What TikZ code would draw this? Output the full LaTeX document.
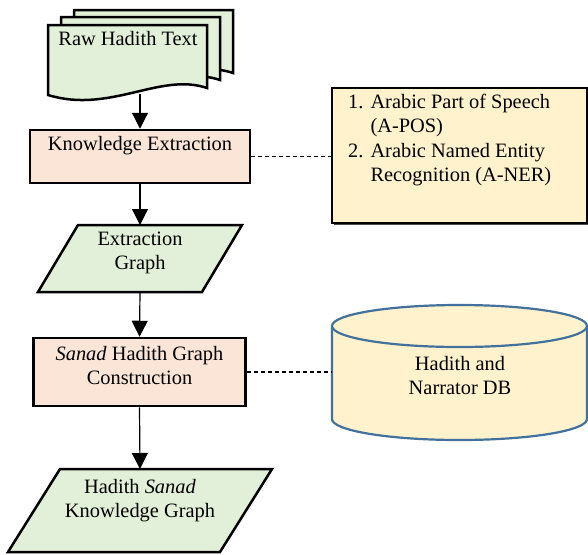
\documentclass[tikz,border=0pt]{standalone}
\usepackage{fontspec}
\setmainfont{Liberation Serif}
\usetikzlibrary{arrows.meta}

\definecolor{docgreen}{HTML}{E2F0D9}
\definecolor{procpink}{HTML}{FBE5D6}
\definecolor{noteyellow}{HTML}{FFF2CC}
\definecolor{dbblue}{HTML}{41719C}

\begin{document}
\begin{tikzpicture}[x=1pt, y=-1pt,
  every node/.style={font=\fontsize{20.4}{24.5}\selectfont},
  txt/.style={inner sep=0pt, anchor=base},
  outline/.style={draw=black, line width=2.5pt},
  procbox/.style={outline, fill=procpink, rectangle, inner sep=0pt},
  notebox/.style={outline, fill=noteyellow, rectangle, inner sep=0pt},
  datashape/.style={outline, fill=docgreen, line join=miter},
  docshape/.style={outline, fill=docgreen},
  flowarrow/.style={draw=black, line width=1.2pt, -{Triangle[length=16pt,width=16pt]}},
  linkline/.style={draw=black, line width=1.1pt, dash pattern=on 4pt off 3pt}]

  \useasboundingbox (0,0) rectangle (588,554);
  \fill[white] (0,0) rectangle (588,554);

  % stacked input documents (back to front)
  \foreach \dx/\dy in {26/-15, 13/-8, 0/0}
    \draw[docshape, shift={(\dx,\dy)}]
      (48,25) -- (207,25) -- (207,88)
      .. controls (160,72) and (110,114) .. (48,95) -- cycle;
  \node[txt] (rawtext) at (128,45) {Raw Hadith Text};
  \coordinate (rawbottom) at (140,94);

  % knowledge extraction step
  \node[procbox, minimum width=220pt, minimum height=53pt] (ke) at (140,156.5) {};
  \node[txt] (ketext) at (140,150) {Knowledge Extraction};

  % extraction methods note
  \fill[black!70] (334,90) rectangle (588,225);
  \node[notebox, minimum width=255pt, minimum height=135pt] (notes) at (459.5,155.5) {};
  \node[inner sep=0pt, anchor=base west] (notetext) at (348,108)
    {\begin{tabular}[t]{@{}l@{\hspace{7pt}}l@{}}
      1. & Arabic Part of Speech\\
         & (A-POS)\\
      2. & Arabic Named Entity\\
         & Recognition (A-NER)
     \end{tabular}};

  % extraction graph
  \draw[datashape] (78,225) -- (242,225) -- (202,292) -- (38,292) -- cycle;
  \coordinate (egtop) at (140,225);
  \coordinate (egbottom) at (140,292);
  \node[txt] (egtext) at (140,245)
    {\begin{tabular}[t]{@{}c@{}}Extraction\\Graph\end{tabular}};

  % sanad graph construction step
  \node[procbox, minimum width=212pt, minimum height=68pt] (sanad) at (139.5,372) {};
  \node[txt] (sanadtext) at (139.5,360)
    {\begin{tabular}[t]{@{}c@{}}\textit{Sanad} Hadith Graph\\Construction\end{tabular}};

  % hadith and narrator database
  \fill[noteyellow] (332,326) -- (332,419)
    arc[start angle=180, end angle=0, x radius=127.5, y radius=21] -- (587,326) -- cycle;
  \draw[dbblue, line width=2.2pt] (332,326) -- (332,419)
    arc[start angle=180, end angle=0, x radius=127.5, y radius=21] -- (587,326);
  \draw[dbblue, line width=2.2pt, fill=noteyellow] (459.5,326) ellipse [x radius=127.5, y radius=21];
  \coordinate (dbleft) at (332,372);
  \node[txt] (dbtext) at (460,370)
    {\begin{tabular}[t]{@{}c@{}}Hadith and\\Narrator DB\end{tabular}};

  % final knowledge graph
  \draw[datashape] (60,469) -- (272,469) -- (220,552) -- (8,552) -- cycle;
  \coordinate (kgtop) at (140,469);
  \node[txt] (kgtext) at (140,493)
    {\begin{tabular}[t]{@{}c@{}}Hadith \textit{Sanad}\\Knowledge Graph\end{tabular}};

  % flow connectors
  \draw[flowarrow] (rawbottom) -- (ke.north);
  \draw[flowarrow] (ke.south) -- (egtop);
  \draw[flowarrow] (egbottom) -- (sanad.north);
  \draw[flowarrow] (sanad.south) -- (kgtop);

  % links to supporting resources
  \draw[linkline] (ke.east) -- (ke.east -| notes.west);
  \draw[linkline] (sanad.east) -- (dbleft);
\end{tikzpicture}
\end{document}
